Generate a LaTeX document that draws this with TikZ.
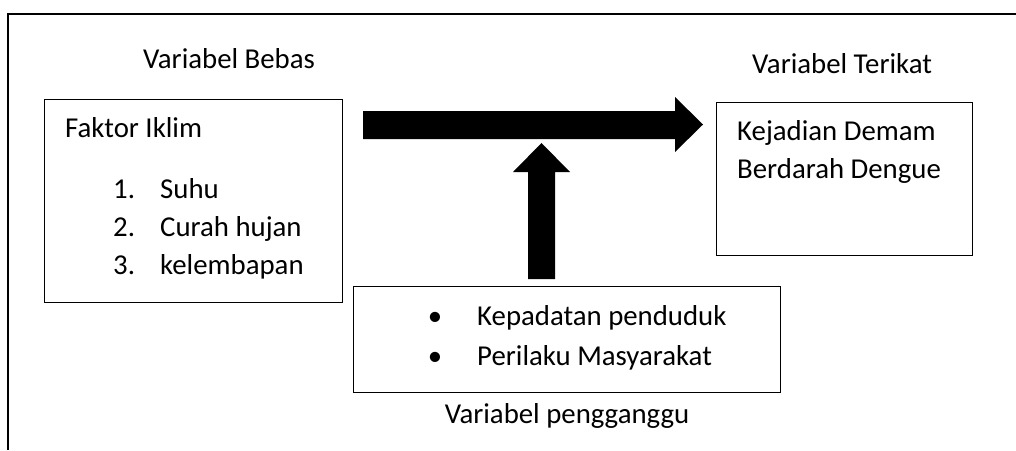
\documentclass[tikz,border=0pt]{standalone}
\usepackage{fontspec}
\setmainfont{Carlito}
\newlength{\du}
\setlength{\du}{1pt}
\tikzset{
  kotak/.style={draw=black, line width=1.3\du, fill=white, inner sep=0pt, anchor=north west},
  teks/.style={anchor=base west, inner sep=0pt, font=\fontsize{28.8}{34}\selectfont},
  tengah/.style={teks, anchor=base},
  panah/.style={fill=black},
}
\begin{document}
\begin{tikzpicture}
\pgftransformxscale{1.000000}
\pgftransformyscale{-1.000000}
\useasboundingbox (0\du,0\du) rectangle (1016\du,450\du);
% bingkai luar
\coordinate (bingkaiBawah) at (8\du,450\du);
\coordinate (bingkaiSudut) at (8\du,14\du);
\coordinate (bingkaiKanan) at (1016\du,14\du);
\draw[line width=2.6\du] (bingkaiBawah)--(bingkaiSudut)--(bingkaiKanan);
% kotak variabel
\node[kotak, minimum width=298\du, minimum height=203\du] (iklim) at (44\du,99\du) {};
\node[kotak, minimum width=256\du, minimum height=153\du] (dbd) at (716\du,102\du) {};
\node[kotak, minimum width=427\du, minimum height=106\du] (pengganggu) at (353\du,286\du) {};
% judul
\node[teks] (judulBebas) at (143\du,68\du) {Variabel Bebas};
\node[teks] (judulTerikat) at (752\du,73\du) {Variabel Terikat};
\node[tengah] (judulPengganggu) at (567\du,423\du) {Variabel pengganggu};
% isi kotak iklim
\node[teks] (faktor) at (65\du,137\du) {Faktor Iklim};
\node[teks] (no1) at (113\du,198\du) {1.};
\node[teks] (suhu) at (160\du,198\du) {Suhu};
\node[teks] (no2) at (113\du,236\du) {2.};
\node[teks] (hujan) at (160\du,236\du) {Curah hujan};
\node[teks] (no3) at (113\du,274\du) {3.};
\node[teks] (lembap) at (160\du,274\du) {kelembapan};
% isi kotak dbd
\node[teks] (kejadian) at (737\du,140\du) {Kejadian Demam};
\node[teks] (berdarah) at (737\du,178\du) {Berdarah Dengue};
% isi kotak pengganggu
\node[tengah] (titik1) at (435\du,325\du) {\textbullet};
\node[teks] (padat) at (477\du,325\du) {Kepadatan penduduk};
\node[tengah] (titik2) at (435\du,365\du) {\textbullet};
\node[teks] (perilaku) at (477\du,365\du) {Perilaku Masyarakat};
% panah besar
\fill[panah] (363\du,111\du)--(675\du,111\du)--(675\du,97\du)--(703\du,124.5\du)--(675\du,152\du)--(675\du,139\du)--(363\du,139\du)--cycle;
\fill[panah] (528\du,279\du)--(528\du,172\du)--(513\du,172\du)--(541.5\du,143\du)--(570\du,172\du)--(555\du,172\du)--(555\du,279\du)--cycle;
\end{tikzpicture}
\end{document}
